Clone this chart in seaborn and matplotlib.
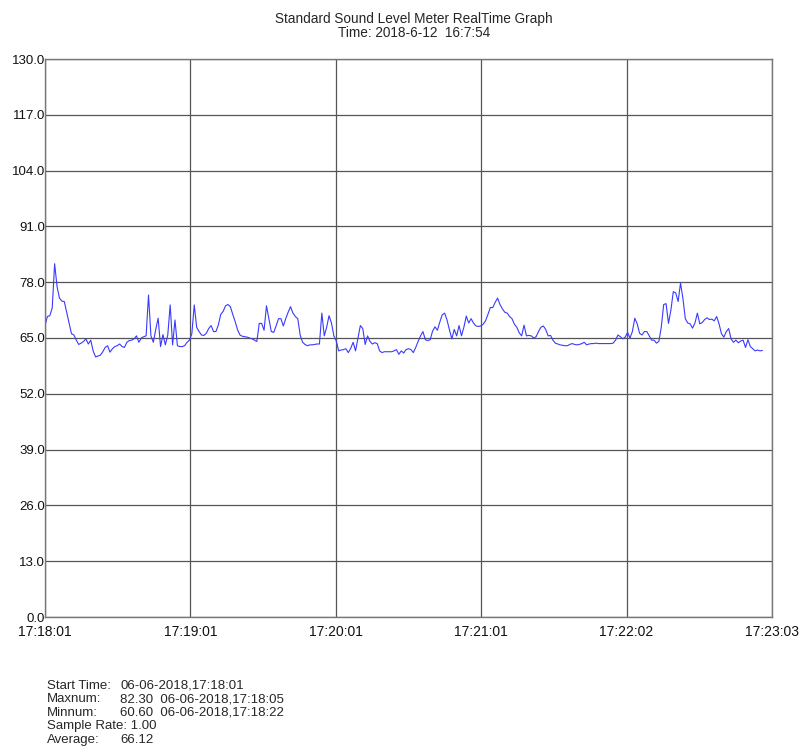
import numpy as np
import pandas as pd
import matplotlib
matplotlib.use("Agg")
import matplotlib.pyplot as plt
import seaborn as sns

# sound level readings (dB), one per second
minute_1 = [68.0, 70.0, 70.2, 72.0, 82.3, 77.0, 74.3, 73.6, 73.5, 71.0,
            68.5, 66.0, 65.7, 64.5, 63.5, 63.8, 64.2, 64.8, 63.6, 64.5,
            62.0, 60.6, 60.8, 61.0, 61.8, 62.8, 63.2, 61.7, 62.5, 63.0,
            63.2, 63.6, 63.0, 62.8, 64.0, 64.4, 64.5, 64.8, 65.5, 64.0,
            65.0, 65.3, 65.5, 75.0, 65.5, 64.0, 67.0, 69.6, 63.0, 65.8,
            63.4, 65.7, 72.7, 63.4, 69.2, 63.2, 63.0, 63.0, 63.2, 64.0]
minute_2 = [64.5, 66.0, 72.7, 67.5, 66.5, 65.7, 65.6, 66.1, 67.2, 67.9,
            66.5, 66.5, 68.0, 70.5, 71.2, 72.5, 72.8, 72.3, 70.5, 68.8,
            66.9, 65.7, 65.4, 65.3, 65.2, 65.0, 64.8, 64.5, 64.2, 68.4,
            68.4, 66.8, 72.5, 69.5, 66.5, 66.3, 67.8, 69.5, 69.5, 67.8,
            69.5, 71.0, 72.3, 70.8, 70.0, 69.5, 65.7, 64.0, 63.5, 63.2,
            63.4, 63.4, 63.5, 63.6, 63.6, 70.8, 65.5, 67.5, 70.2, 68.5]
minute_3 = [65.5, 64.3, 62.0, 62.2, 62.3, 62.5, 61.6, 62.6, 64.0, 62.0,
            65.0, 67.9, 67.2, 63.5, 65.5, 64.2, 63.6, 63.9, 63.7, 62.0,
            61.6, 61.8, 61.8, 61.8, 61.8, 62.0, 62.3, 61.2, 62.0, 61.5,
            62.3, 62.5, 62.3, 61.6, 62.8, 64.2, 65.5, 66.5, 64.6, 64.4,
            64.6, 66.6, 67.6, 66.8, 68.7, 70.4, 70.8, 69.2, 66.9, 64.8,
            67.0, 65.5, 67.9, 65.5, 67.5, 70.1, 68.5, 69.5, 68.5, 67.8]
minute_4 = [67.7, 67.8, 68.2, 69.0, 70.5, 72.1, 72.1, 73.3, 74.3, 72.8,
            71.8, 71.0, 70.8, 70.0, 69.5, 68.2, 67.5, 66.2, 65.5, 68.0,
            65.5, 65.6, 65.5, 65.0, 65.3, 66.5, 67.5, 67.8, 67.0, 65.5,
            65.6, 64.5, 63.8, 63.6, 63.4, 63.3, 63.2, 63.2, 63.5, 63.7,
            63.5, 63.4, 63.5, 63.7, 64.0, 63.4, 63.6, 63.7, 63.7, 63.8,
            63.7, 63.7, 63.7, 63.7, 63.7, 63.7, 63.8, 64.5, 65.7, 65.3]
minute_5 = [64.8, 65.2, 66.3, 65.0, 66.5, 69.6, 68.3, 66.1, 65.7, 66.5,
            66.5, 65.5, 64.5, 64.5, 63.8, 64.2, 67.5, 72.8, 73.0, 68.4,
            71.5, 75.8, 75.5, 73.5, 77.8, 74.2, 69.5, 68.5, 68.3, 67.3,
            68.5, 70.8, 68.3, 68.6, 69.3, 69.7, 69.3, 69.4, 69.0, 70.0,
            68.3, 66.0, 65.2, 66.5, 67.2, 64.8, 64.0, 64.5, 63.9, 64.3,
            64.5, 62.8, 64.6, 63.0, 62.5, 62.0, 62.2, 62.0, 62.1]

sample_rate = 1.0
total_seconds = 302
x_labels = ["17:18:01", "17:19:01", "17:20:01", "17:21:01", "17:22:02", "17:23:03"]
y_ticks = [0, 13, 26, 39, 52, 65, 78, 91, 104, 117, 130]

levels = minute_1 + minute_2 + minute_3 + minute_4 + minute_5
df = pd.DataFrame({"t": np.arange(len(levels)) * sample_rate, "level": levels})

sns.set_style("white")
plt.rcParams["font.family"] = ["Liberation Sans", "DejaVu Sans"]

fig = plt.figure(figsize=(7.99, 7.56), dpi=100)
ax = fig.add_axes([45 / 799, 1 - 617 / 756, 727 / 799, 558 / 756])

sns.lineplot(data=df, x="t", y="level", ax=ax, color="#3a3aff", linewidth=0.8)

ax.set_xlim(0, total_seconds)
ax.set_ylim(0, 130)
ax.set_xticks(np.linspace(0, total_seconds, len(x_labels)))
ax.set_xticklabels(x_labels)
ax.set_yticks(y_ticks)
ax.set_yticklabels(["%.1f" % v for v in y_ticks])
ax.tick_params(axis="both", length=0, labelsize=9.5, colors="#111111")
ax.tick_params(axis="x", pad=6, labelsize=10)
ax.tick_params(axis="y", pad=0)
ax.set_xlabel("")
ax.set_ylabel("")

ax.grid(True, color="#555555", linewidth=0.9)
for s in ax.spines.values():
    s.set_color("#777777")
    s.set_linewidth(1.0)

fig.text(414 / 799, 1 - 19 / 756, "Standard Sound Level Meter RealTime Graph",
         ha="center", va="center", fontsize=9.8)
fig.text(414 / 799, 1 - 33 / 756, "Time: 2018-6-12  16:7:54",
         ha="center", va="center", fontsize=9.8)

# summary block under the chart
info = [("Start Time:", "06-06-2018,17:18:01"),
        ("Maxnum:", "82.30  06-06-2018,17:18:05"),
        ("Minnum:", "60.60  06-06-2018,17:18:22"),
        ("Sample Rate: 1.00", None),
        ("Average:", "66.12")]
for i, (label, value) in enumerate(info):
    y = 1 - (686 + i * 13.4) / 756
    fig.text(47 / 799, y, label, ha="left", va="center", fontsize=9.5)
    if value:
        fig.text(120 / 799, y, value, ha="left", va="center", fontsize=9.5)

fig.savefig("out.png", dpi=100)
